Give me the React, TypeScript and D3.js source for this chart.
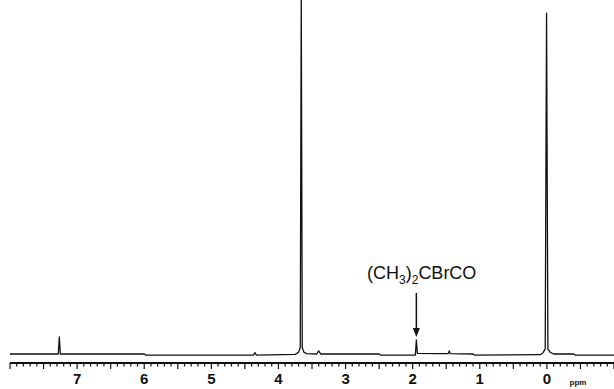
import React from "react";
import * as d3 from "d3";

// spectrum trace: [ppm, relative intensity]
const spectrumPpm = [8.0, 7.5, 7.28, 7.265, 7.25, 6.5, 6.0, 5.98, 5.0, 4.37, 4.35, 4.33, 3.75, 3.70, 3.675, 3.66, 3.645, 3.62, 3.58, 3.43, 3.40, 3.37, 2.5, 2.48, 1.96, 1.945, 1.93, 1.6, 1.47, 1.455, 1.44, 1.1, 1.08, 0.1, 0.06, 0.025, 0.005, -0.015, -0.05, -0.1, -0.4, -0.42, -1.0];
const spectrumInt = [0, 0, 0, 4.9, 0, 0, 0, -0.3, -0.3, -0.3, 0.4, -0.3, -0.1, 0.5, 1.8, 101.5, 1.8, 0.5, 0.1, 0, 0.9, 0, 0, -0.3, -0.3, 4.0, 0.2, 0.1, 0.1, 0.9, 0.1, 0, -0.3, -0.2, 0.3, 1.4, 97.4, 1.4, 0.5, 0, 0, -0.3, -0.3];

const tickLabels = ["7", "6", "5", "4", "3", "2", "1", "0"];
const labelValues = [7, 6, 5, 4, 3, 2, 1, 0];
const annotationPpm = 1.945;

export default function App() {
  const W = 614, H = 389;
  const x = d3.scaleLinear().domain([8, -1]).range([10, 614]);
  const y = d3.scaleLinear().domain([0, 100]).range([354, 4]);
  const axisY = 363;

  const pts: [number, number][] = spectrumPpm.map((p, i) => [p, spectrumInt[i]]);
  const line = d3.line<[number, number]>().x(d => x(d[0])).y(d => y(d[1]));

  const minorTicks = d3.range(80, -11, -1).map(v => v / 10);
  const ax = x(annotationPpm);

  return (
    <svg width={W} height={H} style={{ position: "absolute", left: 0, top: 0, background: "#fff" }}
      fontFamily="'Liberation Sans', Arial, sans-serif">
      <rect width={W} height={H} fill="#fff" />
      <path d={line(pts) || ""} fill="none" stroke="#111" strokeWidth={1.3} strokeLinejoin="round" />
      {/* axis */}
      <line x1={x(8)} x2={x(-1)} y1={axisY} y2={axisY} stroke="#111" strokeWidth={2} />
      {minorTicks.map((t, i) => {
        const major = Math.abs(t * 2 - Math.round(t * 2)) < 1e-6;
        return (
          <line key={i} x1={x(t)} x2={x(t)} y1={axisY} y2={axisY + (major ? 6 : 3.5)}
            stroke="#111" strokeWidth={1.2} />
        );
      })}
      {labelValues.map((v, i) => (
        <text key={i} x={x(v)} y={384} textAnchor="middle" fontSize={15} fontWeight="bold" fill="#111">
          {tickLabels[i]}
        </text>
      ))}
      <text x={578} y={385} textAnchor="middle" fontSize={8} fontWeight="bold" fill="#111">ppm</text>
      {/* annotation */}
      <text x={367} y={279} fontSize={18} fill="#111">
        (CH<tspan fontSize={12} dy={5}>3</tspan><tspan dy={-5}>)</tspan><tspan fontSize={12} dy={5}>2</tspan><tspan dy={-5}>CBrCO</tspan>
      </text>
      <line x1={ax} x2={ax} y1={293} y2={330} stroke="#111" strokeWidth={1.5} />
      <path d={`M${ax - 3.5},${328} L${ax + 3.5},${328} L${ax},${337} Z`} fill="#111" />
    </svg>
  );
}
